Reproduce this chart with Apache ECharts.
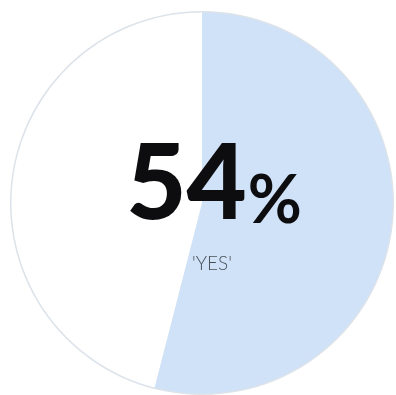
<!DOCTYPE html>
<html><head><meta charset="utf-8">
<script src="https://cdn.jsdelivr.net/npm/echarts@6/dist/echarts.min.js"></script>
<style>html,body{margin:0;padding:0;background:#fff}#c{width:396px;height:395px}</style>
</head><body><div id="c"></div>
<script>
const categories = ['YES', 'NO'];
const values = [54, 46];
const mainLabel = '54';
const subLabel = "'YES'";

const chart = echarts.init(document.getElementById('c'));
chart.setOption({
  animation: false,
  backgroundColor: '#ffffff',
  title: [{
    text: '{a|' + mainLabel + '}{b|%}',
    left: 209, top: 128, textAlign: 'center',
    textStyle: {
      rich: {
        a: { fontFamily: 'Lato', fontWeight: 900, fontSize: 104, color: '#0d0d0f', verticalAlign: 'bottom', lineHeight: 104 },
        b: { fontFamily: 'Lato', fontWeight: 700, fontSize: 66, color: '#0d0d0f', verticalAlign: 'bottom', lineHeight: 104, padding: [0,0,2,1] }
      }
    }
  }, {
    text: subLabel,
    left: 207, top: 249, textAlign: 'center',
    textStyle: { fontFamily: 'Lato', fontWeight: 300, fontSize: 19, color: '#4a4f57' }
  }],
  series: [{
    type: 'pie', silent: true, z: 1,
    center: [202, 203], radius: 192,
    label: { show: false },
    data: [{ value: 1, itemStyle: { color: '#dde3ea' } }]
  }, {
    type: 'pie', silent: true, z: 2,
    center: [202, 203], radius: 190.5,
    startAngle: 90, clockwise: true,
    label: { show: false },
    data: categories.map((c, i) => ({
      name: c, value: values[i],
      itemStyle: { color: i === 0 ? '#cfe2f8' : '#ffffff' }
    }))
  }]
});
</script></body></html>
